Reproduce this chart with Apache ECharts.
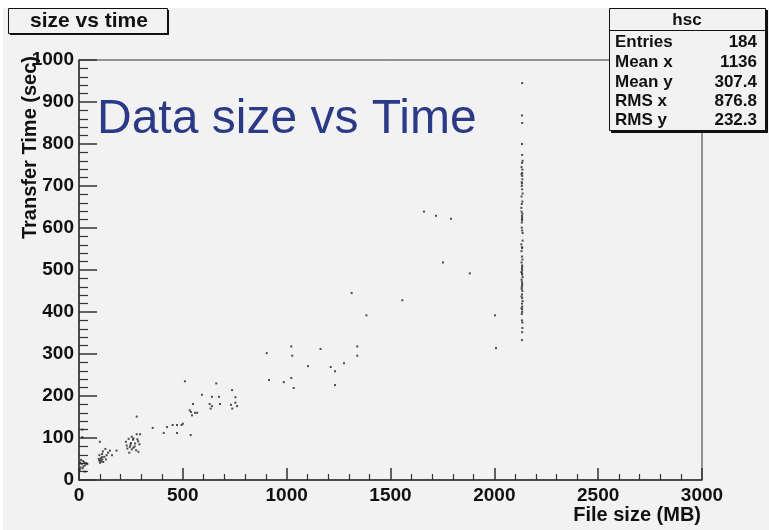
<!DOCTYPE html>
<html>
<head>
<meta charset="utf-8">
<script src="https://cdn.jsdelivr.net/npm/echarts@6/dist/echarts.min.js"></script>
<style>
html,body{margin:0;padding:0;background:#ffffff;}
#chart{width:769px;height:530px;}
</style>
</head>
<body>
<div id="chart"></div>
<script>
// ---- data (File size MB, Transfer time sec) ----
const smallFiles = [
  [510,235],[661,230],[737,214],[592,203],[640,198],[674,198],[753,197],[549,181],[629,181],[679,181],
  [753,184],[732,179],[761,176],[640,176],[634,170],[738,170],[533,166],[539,162],[558,160],[569,160],
  [544,154],[451,131],[472,131],[494,131],[500,134],[424,126],[408,112],[472,112],[538,107],
  [355,124],[278,151],
  [226,91],[254,103],[262,99],[278,109],[294,109],[291,85],[270,87],[233,75],[254,73],[262,77],
  [242,65],[286,67],[281,97],[239,98],[260,96],[248,84],[268,80],[285,92],[230,82],[275,71],[250,88],[245,79],
  [127,74],[149,70],[181,70],[111,62],[133,59],[98,59],[112,49],[98,46],[101,41],[117,43],
  [130,49],[159,59],[100,91],[105,52],[122,55],[140,65],[108,44],[95,50],[115,68],[104,47],[112,55],
  [16,120],[16,102],[8,30],[12,38],[20,45],[25,42],[30,35],[35,40],[5,25],[18,28],[40,38],[10,48],[22,33],[28,20],[6,42]
];
const mediumFiles = [
  [1022,318],[1163,312],[1340,318],[904,302],[1027,296],[1340,296],[1276,278],[1103,271],[1212,269],
  [1233,259],[915,238],[1022,243],[986,233],[1034,219],[1233,226],[1313,445],[1384,392],
  [1557,428],[1661,639],[1719,629],[1791,622],[1753,518],[1882,492],[2003,392],[2008,314]
];
const largeFilesX = [
  2134,2133,2134,2133,2134,2133,2135,2134,2131,2134,2132,2133,2134,2131,2135,2132,2131,2133,2134,2133,
  2134,2132,2134,2136,2130,2133,2134,2133,2131,2134,2134,2133,2134,2133,2134,2131,2133,2134,2134,2132,
  2133,2134,2133,2134,2131,2134,2134,2133,2135,2134,2133,
  2136,2131,2135,2132,2136,2130,2135,2132,2136,2131,2135,2130,2136,2132,2135,2131,2136,2132,2135
];
const largeFilesY = [
  945,868,850,800,774,755,739,731,728,724,709,706,692,675,663,657,639,629,625,621,
  618,613,594,588,561,554,552,532,518,511,507,503,499,492,489,477,472,467,463,455,
  442,433,420,413,409,406,400,380,375,352,333,
  760,745,716,700,682,648,634,601,570,545,525,495,483,459,450,437,426,395,362
];
const xTicks = {min:0, max:3000, step:500};
const yTicks = {min:0, max:1000, step:100};
const statRows = [["Entries","184"],["Mean x","1136"],["Mean y","307.4"],["RMS x","876.8"],["RMS y","232.3"]];

const largeFiles = largeFilesX.map((x,i)=>[x, largeFilesY[i]]);
const allPoints = smallFiles.concat(mediumFiles, largeFiles);

const BG = '#f2f2f2';
const FF = '"Liberation Sans", Arial, sans-serif';
const lblFont = {fontFamily:FF, fontWeight:'bold', fontSize:19, color:'#111', formatter:(v)=>String(v)};

const graphics = [
  {type:'rect', shape:{x:0,y:0,width:769,height:8}, style:{fill:'#ffffff'}, z:-1},
  {type:'rect', shape:{x:0,y:0,width:3,height:530}, style:{fill:'#ffffff'}, z:-1},
  // title box
  {type:'rect', shape:{x:10,y:10,width:159,height:25}, style:{fill:'#111'}, z:10},
  {type:'rect', shape:{x:8.5,y:8.5,width:159,height:25}, style:{fill:BG, stroke:'#111', lineWidth:1}, z:11},
  {type:'text', x:89, y:21, z:12, style:{text:'size vs time', font:'bold 21px '+FF, fill:'#111', textAlign:'center', textVerticalAlign:'middle'}},
  // stats box
  {type:'rect', shape:{x:611,y:10,width:157,height:123}, style:{fill:'#111'}, z:10},
  {type:'rect', shape:{x:609.5,y:8.5,width:156,height:122}, style:{fill:BG, stroke:'#111', lineWidth:1}, z:11},
  {type:'line', shape:{x1:609.5,y1:30.5,x2:765.5,y2:30.5}, style:{stroke:'#111', lineWidth:1}, z:12},
  {type:'text', x:687, y:20, z:12, style:{text:'hsc', font:'bold 17px '+FF, fill:'#111', textAlign:'center', textVerticalAlign:'middle'}},
  // big blue label
  {type:'text', x:97, y:120, z:12, style:{text:'Data size vs Time', font:'48px '+FF, fill:'#2b3a86', textAlign:'left', textVerticalAlign:'middle'}},
  // axis titles
  {type:'text', x:30, y:56, rotation:Math.PI/2, z:12, style:{text:'Transfer Time (sec)', font:'bold 20px '+FF, fill:'#111', textAlign:'right', textVerticalAlign:'middle'}},
  {type:'text', x:701, y:515, z:12, style:{text:'File size (MB)', font:'bold 20px '+FF, fill:'#111', textAlign:'right', textVerticalAlign:'middle'}}
];
const rowYs = [42,62,82,101,120];
statRows.forEach((r,i)=>{
  graphics.push({type:'text', x:615, y:rowYs[i], z:12, style:{text:r[0], font:'bold 17px '+FF, fill:'#111', textAlign:'left', textVerticalAlign:'middle'}});
  graphics.push({type:'text', x:757, y:rowYs[i], z:12, style:{text:r[1], font:'bold 17px '+FF, fill:'#111', textAlign:'right', textVerticalAlign:'middle'}});
});

const chart = echarts.init(document.getElementById('chart'), null, {renderer:'canvas'});
chart.setOption({
  backgroundColor: BG,
  animation:false,
  grid:{left:79, top:60, right:67, bottom:50, show:true, borderColor:'#333', borderWidth:1, backgroundColor:'transparent'},
  xAxis:{
    type:'value', min:xTicks.min, max:xTicks.max, interval:xTicks.step,
    axisLine:{show:true, onZero:false, lineStyle:{color:'#333', width:1.5}},
    axisTick:{show:true, inside:true, length:12, lineStyle:{color:'#333', width:1.5}},
    minorTick:{show:true, splitNumber:5, length:6, lineStyle:{color:'#333', width:1.2}},
    splitLine:{show:false},
    axisLabel:Object.assign({margin:6}, lblFont)
  },
  yAxis:{
    type:'value', min:yTicks.min, max:yTicks.max, interval:yTicks.step,
    axisLine:{show:true, onZero:false, lineStyle:{color:'#333', width:1.5}},
    axisTick:{show:true, inside:true, length:18, lineStyle:{color:'#333', width:1.5}},
    minorTick:{show:true, splitNumber:5, length:9, lineStyle:{color:'#333', width:1.2}},
    splitLine:{show:false},
    axisLabel:Object.assign({margin:5}, lblFont)
  },
  series:[{
    type:'scatter', data:allPoints, symbol:'rect', symbolSize:2,
    itemStyle:{color:'#222'}, z:5
  }],
  graphic: graphics
});
</script>
</body>
</html>
